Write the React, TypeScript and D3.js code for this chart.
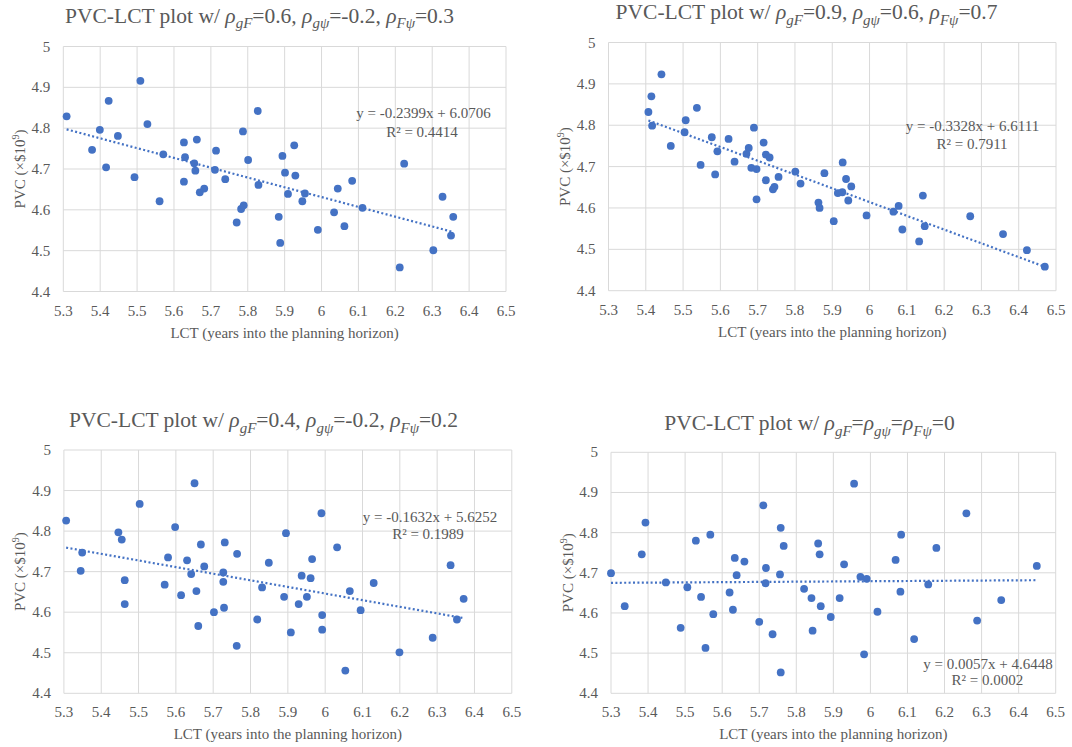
import React from "react";
import * as d3 from "d3";

// ---- data: LCT (years) and PVC (×$10^9) for each correlation scenario ----
const lct1 = [5.309, 5.378, 5.399, 5.423, 5.416, 5.448, 5.493, 5.509, 5.528, 5.561, 5.571, 5.627, 5.63, 5.627, 5.662, 5.655, 5.658, 5.67, 5.682, 5.714, 5.711, 5.739, 5.787, 5.801, 5.782, 5.789, 5.77, 5.827, 5.829, 5.894, 5.901, 5.926, 5.929, 5.909, 5.884, 5.888, 5.955, 5.948, 5.99, 6.034, 6.044, 6.062, 6.083, 6.111, 6.224, 6.212, 6.303, 6.328, 6.357, 6.351];
const pvc1 = [4.829, 4.747, 4.796, 4.867, 4.704, 4.781, 4.68, 4.916, 4.81, 4.621, 4.736, 4.765, 4.729, 4.669, 4.772, 4.714, 4.696, 4.643, 4.652, 4.745, 4.698, 4.675, 4.792, 4.722, 4.602, 4.611, 4.569, 4.842, 4.661, 4.732, 4.691, 4.758, 4.684, 4.639, 4.583, 4.519, 4.64, 4.621, 4.551, 4.594, 4.652, 4.56, 4.671, 4.605, 4.713, 4.459, 4.501, 4.632, 4.583, 4.537];

const lct2 = [5.407, 5.415, 5.417, 5.442, 5.467, 5.507, 5.504, 5.537, 5.547, 5.577, 5.586, 5.592, 5.622, 5.638, 5.67, 5.676, 5.683, 5.69, 5.697, 5.697, 5.716, 5.722, 5.722, 5.732, 5.741, 5.745, 5.756, 5.801, 5.815, 5.863, 5.866, 5.879, 5.904, 5.915, 5.927, 5.928, 5.937, 5.943, 5.951, 5.992, 6.064, 6.078, 6.088, 6.133, 6.143, 6.148, 6.27, 6.358, 6.422, 6.47];
const pvc2 = [4.832, 4.87, 4.799, 4.923, 4.75, 4.812, 4.783, 4.842, 4.704, 4.771, 4.681, 4.737, 4.767, 4.712, 4.731, 4.745, 4.697, 4.794, 4.694, 4.621, 4.758, 4.729, 4.667, 4.722, 4.645, 4.651, 4.675, 4.688, 4.659, 4.613, 4.6, 4.684, 4.568, 4.636, 4.638, 4.71, 4.67, 4.618, 4.652, 4.582, 4.591, 4.605, 4.548, 4.519, 4.63, 4.556, 4.58, 4.537, 4.498, 4.458];

const lct3 = [5.306, 5.349, 5.345, 5.446, 5.455, 5.463, 5.463, 5.503, 5.57, 5.579, 5.598, 5.614, 5.63, 5.641, 5.65, 5.655, 5.667, 5.66, 5.676, 5.702, 5.727, 5.727, 5.731, 5.729, 5.764, 5.763, 5.818, 5.831, 5.849, 5.89, 5.895, 5.908, 5.929, 5.937, 5.951, 5.961, 5.965, 5.99, 5.992, 5.992, 6.032, 6.054, 6.066, 6.095, 6.13, 6.199, 6.288, 6.336, 6.353, 6.371];
const pvc3 = [4.826, 4.747, 4.702, 4.797, 4.779, 4.679, 4.62, 4.867, 4.668, 4.735, 4.81, 4.642, 4.728, 4.694, 4.918, 4.652, 4.767, 4.566, 4.713, 4.6, 4.698, 4.675, 4.772, 4.611, 4.744, 4.517, 4.582, 4.661, 4.722, 4.638, 4.795, 4.55, 4.62, 4.69, 4.638, 4.684, 4.731, 4.844, 4.593, 4.557, 4.76, 4.456, 4.652, 4.605, 4.672, 4.501, 4.537, 4.716, 4.582, 4.633];

const lct4 = [5.3, 5.337, 5.383, 5.393, 5.448, 5.488, 5.506, 5.529, 5.543, 5.555, 5.568, 5.576, 5.62, 5.629, 5.634, 5.639, 5.66, 5.7, 5.711, 5.718, 5.717, 5.736, 5.756, 5.758, 5.758, 5.766, 5.821, 5.841, 5.844, 5.859, 5.863, 5.866, 5.893, 5.917, 5.929, 5.956, 5.973, 5.983, 5.99, 6.019, 6.068, 6.081, 6.083, 6.118, 6.156, 6.178, 6.259, 6.288, 6.353, 6.449];
const pvc4 = [4.699, 4.617, 4.746, 4.825, 4.676, 4.563, 4.664, 4.78, 4.64, 4.513, 4.795, 4.597, 4.651, 4.608, 4.737, 4.694, 4.728, 4.578, 4.868, 4.712, 4.674, 4.547, 4.696, 4.812, 4.452, 4.767, 4.66, 4.637, 4.556, 4.773, 4.746, 4.617, 4.59, 4.637, 4.721, 4.922, 4.69, 4.497, 4.685, 4.603, 4.732, 4.653, 4.795, 4.535, 4.671, 4.762, 4.848, 4.581, 4.632, 4.717];

// linear trend fits: [slope, intercept, R²]
const fit1 = [-0.2399, 6.0706, 0.4414];
const fit2 = [-0.3328, 6.6111, 0.7911];
const fit3 = [-0.1632, 5.6252, 0.1989];
const fit4 = [0.0057, 4.6448, 0.0002];

// correlation settings shown in each title: [ρgF, ρgψ, ρFψ]
const rho1 = ["0.6", "-0.2", "0.3"];
const rho2 = ["0.9", "0.6", "0.7"];
const rho3 = ["0.4", "-0.2", "0.2"];
const rho4 = ["0", "0", "0"];

const X_TICKS = [5.3, 5.4, 5.5, 5.6, 5.7, 5.8, 5.9, 6, 6.1, 6.2, 6.3, 6.4, 6.5];
const Y_TICKS = [4.4, 4.5, 4.6, 4.7, 4.8, 4.9, 5];
const X_TITLE = "LCT (years into the planning horizon)";

// ---- layout ----
const FRAMES = [
  { left: 63.3, right: 506, top: 46.5, bottom: 291.5, titleX: 259.5, titleY: 22.5, yTitleX: 24.5, eqX: 423.5, eqY: 118, r2X: 422, r2Y: 137 },
  { left: 608.5, right: 1056, top: 42.5, bottom: 290.7, titleX: 806.5, titleY: 19, yTitleX: 569.5, eqX: 972.5, eqY: 131, r2X: 972, r2Y: 148.5 },
  { left: 63.9, right: 511.8, top: 450, bottom: 693.3, titleX: 263.5, titleY: 427, yTitleX: 24.6, eqX: 430, eqY: 521.7, r2X: 428, r2Y: 538.5 },
  { left: 611, right: 1055.7, top: 452.3, bottom: 693.3, titleX: 809.5, titleY: 430, yTitleX: 573, eqX: 988, eqY: 668.5, r2X: 987.3, r2Y: 684.5 },
];

const FONT = "'Liberation Serif', 'Times New Roman', serif";
const TEXT = "#595959";
const GRID = "#D9D9D9";
const BLUE = "#4472C4";
const TITLE_SIZE = 21.5;
const SUB_SIZE = 15;
const SUB_SHIFT = 5.5;

const fmtTick = (v: number) => String(+v.toFixed(1));
const fmtNum = (v: number) => v.toFixed(4);

// italic ρ with an italic subscript, followed by trailing text on the main baseline
function rhoParts(sub: string, after: string, key: string) {
  return [
    <tspan key={key + "r"} fontStyle="italic">ρ</tspan>,
    <tspan key={key + "s"} fontStyle="italic" fontSize={SUB_SIZE} dy={SUB_SHIFT}>{sub}</tspan>,
    <tspan key={key + "a"} dy={-SUB_SHIFT}>{after}</tspan>,
  ];
}

function Title({ rho, equal, x, y }: { rho: string[]; equal: boolean; x: number; y: number }) {
  const parts = equal
    ? [...rhoParts("gF", "=", "a"), ...rhoParts("gψ", "=", "b"), ...rhoParts("Fψ", `=${rho[2]}`, "c")]
    : [
        ...rhoParts("gF", `=${rho[0]}, `, "a"),
        ...rhoParts("gψ", `=${rho[1]}, `, "b"),
        ...rhoParts("Fψ", `=${rho[2]}`, "c"),
      ];
  return (
    <text x={x} y={y} textAnchor="middle" fontSize={TITLE_SIZE} fill={TEXT} fontFamily={FONT} xmlSpace="preserve">
      <tspan>PVC-LCT plot w/ </tspan>
      {parts}
    </text>
  );
}

type PanelProps = {
  lct: number[];
  pvc: number[];
  fit: number[];
  rho: string[];
  equal: boolean;
  frame: (typeof FRAMES)[number];
};

function Panel({ lct, pvc, fit, rho, equal, frame }: PanelProps) {
  const x = d3.scaleLinear().domain([X_TICKS[0], X_TICKS[X_TICKS.length - 1]]).range([frame.left, frame.right]);
  const y = d3.scaleLinear().domain([Y_TICKS[0], Y_TICKS[Y_TICKS.length - 1]]).range([frame.bottom, frame.top]);
  const [slope, intercept, r2] = fit;
  const [x0, x1] = d3.extent(lct) as [number, number];
  const trend = d3
    .line<number>()
    .x((d) => x(d))
    .y((d) => y(slope * d + intercept))([x0, x1]);
  const sign = intercept >= 0 ? "+" : "-";
  const eq = `y = ${slope < 0 ? "-" : ""}${fmtNum(Math.abs(slope))}x ${sign} ${fmtNum(Math.abs(intercept))}`;
  const yMid = (frame.top + frame.bottom) / 2;
  const xMid = (frame.left + frame.right) / 2;

  return (
    <g fontFamily={FONT}>
      <Title rho={rho} equal={equal} x={frame.titleX} y={frame.titleY} />
      {/* grid */}
      {X_TICKS.map((t) => (
        <line key={"gx" + t} x1={x(t)} x2={x(t)} y1={frame.top} y2={frame.bottom} stroke={GRID} strokeWidth={1} />
      ))}
      {Y_TICKS.map((t) => (
        <line key={"gy" + t} x1={frame.left} x2={frame.right} y1={y(t)} y2={y(t)} stroke={GRID} strokeWidth={1} />
      ))}
      {/* tick labels */}
      {X_TICKS.map((t) => (
        <text key={"tx" + t} x={x(t)} y={frame.bottom + 24} textAnchor="middle" fontSize={15} fill={TEXT}>
          {fmtTick(t)}
        </text>
      ))}
      {Y_TICKS.map((t) => (
        <text key={"ty" + t} x={frame.left - 13} y={y(t) + 5} textAnchor="end" fontSize={15} fill={TEXT}>
          {fmtTick(t)}
        </text>
      ))}
      {/* axis titles */}
      <text x={xMid} y={frame.bottom + 46} textAnchor="middle" fontSize={15} fill={TEXT}>
        {X_TITLE}
      </text>
      <text
        transform={`translate(${frame.yTitleX},${yMid}) rotate(-90)`}
        textAnchor="middle"
        fontSize={15}
        fill={TEXT}
      >
        <tspan>PVC (×$10</tspan>
        <tspan fontSize={10} dy={-6}>9</tspan>
        <tspan dy={6}>)</tspan>
      </text>
      {/* points */}
      {lct.map((v, i) => (
        <circle key={"p" + i} cx={x(v)} cy={y(pvc[i])} r={3.9} fill={BLUE} />
      ))}
      {/* trend line */}
      <path d={trend ?? ""} fill="none" stroke={BLUE} strokeWidth={2.2} strokeDasharray="2 2.4" />
      {/* fit label */}
      <text x={frame.eqX} y={frame.eqY} textAnchor="middle" fontSize={15} fill={TEXT}>
        {eq}
      </text>
      <text x={frame.r2X} y={frame.r2Y} textAnchor="middle" fontSize={15} fill={TEXT}>
        {`R² = ${fmtNum(r2)}`}
      </text>
    </g>
  );
}

export default function App() {
  return (
    <svg
      width={1072}
      height={747}
      viewBox="0 0 1072 747"
      style={{ position: "absolute", left: 0, top: 0, background: "#fff" }}
    >
      <rect x={0} y={0} width={1072} height={747} fill="#fff" />
      <Panel lct={lct1} pvc={pvc1} fit={fit1} rho={rho1} equal={false} frame={FRAMES[0]} />
      <Panel lct={lct2} pvc={pvc2} fit={fit2} rho={rho2} equal={false} frame={FRAMES[1]} />
      <Panel lct={lct3} pvc={pvc3} fit={fit3} rho={rho3} equal={false} frame={FRAMES[2]} />
      <Panel lct={lct4} pvc={pvc4} fit={fit4} rho={rho4} equal={true} frame={FRAMES[3]} />
    </svg>
  );
}
